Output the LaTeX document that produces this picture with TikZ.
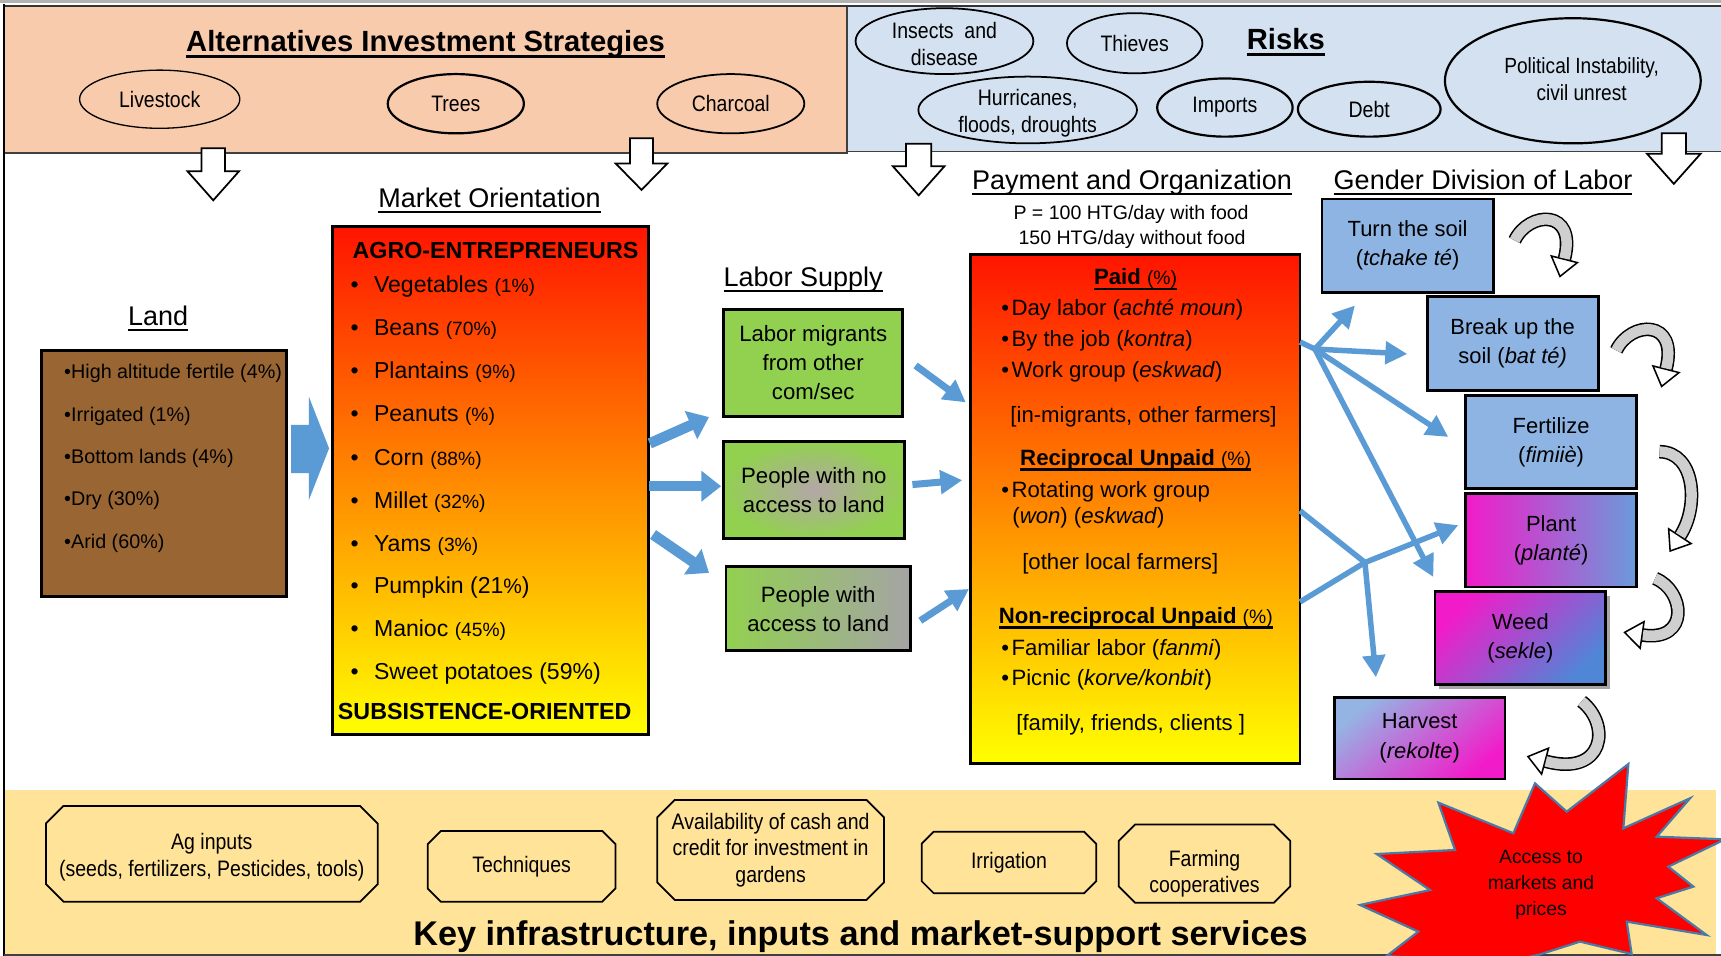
\documentclass[tikz,border=0pt]{standalone}
\usepackage{fontspec}
\setmainfont{Liberation Sans}
\newfontfamily\narrowsf{Liberation Sans}[FakeStretch=0.87]
\usetikzlibrary{arrows.meta,shapes.geometric}
\definecolor{peach}{HTML}{F8CBAD}
\definecolor{paleblue}{HTML}{D3E1F1}
\definecolor{paleyellow}{HTML}{FFE399}
\definecolor{brownland}{HTML}{996633}
\definecolor{grn}{HTML}{92D050}
\definecolor{arrowblue}{HTML}{5B9BD5}
\definecolor{lblue}{HTML}{8DB4E2}
\definecolor{mag}{HTML}{F21BC9}
\definecolor{mblue}{HTML}{6A9BDA}
\definecolor{wblue}{HTML}{4F86D6}
\definecolor{hblue}{HTML}{95B4E4}
\definecolor{curvegray}{HTML}{CFCFCF}
\definecolor{burstedge}{HTML}{4A7BA6}
\definecolor{topred}{HTML}{FF1400}
\definecolor{midorange}{HTML}{FF9E00}
\definecolor{pinkgrey}{HTML}{B4A6A8}
\definecolor{greybox}{HTML}{A4A4A4}

\newcommand\ulthick[1]{\setbox0=\hbox{#1}\rlap{\rule[-2.9pt]{\wd0}{1.3pt}}\box0}
\newcommand\ulmid[1]{\setbox0=\hbox{#1}\rlap{\rule[-2.4pt]{\wd0}{1pt}}\box0}
\newcommand\ulthin[1]{\setbox0=\hbox{#1}\rlap{\rule[-2.4pt]{\wd0}{0.65pt}}\box0}
\newcommand\fsTitle{\fontsize{13.3}{16}\selectfont}
\newcommand\fsHead{\fontsize{12.3}{15}\selectfont}
\newcommand\fsItem{\fontsize{10.5}{13}\selectfont}
\newcommand\fsPct{\fontsize{8.75}{11}\selectfont}
\newcommand\fsPay{\fontsize{10.1}{13}\selectfont}
\newcommand\fsSmall{\fontsize{8.9}{11.5}\selectfont}
\newcommand\fsLand{\fontsize{9}{11}\selectfont}
\newcommand\fsBox{\fontsize{10.1}{13.2}\selectfont}
\newcommand\fsGen{\fontsize{10}{13.3}\selectfont}
\newcommand\fsEll{\narrowsf\fontsize{10.2}{12}\selectfont}
\newcommand\fsKey{\fontsize{15.6}{18}\selectfont}

\newcommand\blockdown[7]{%
  \draw[downarr] ({#2-#6},#3) -- ({#2+#6},#3) -- ({#2+#6},#4) -- ({#2+#7},#4)
    -- (#2,#5) coordinate (#1) -- ({#2-#7},#4) -- ({#2-#6},#4) -- cycle;}
\newcommand\chamf[2]{%
  \draw[octo] ([xshift=#2]#1.north west) -- ([xshift=-#2]#1.north east)
    -- ([yshift=-#2]#1.north east) -- ([yshift=#2]#1.south east)
    -- ([xshift=-#2]#1.south east) -- ([xshift=#2]#1.south west)
    -- ([yshift=#2]#1.south west) -- ([yshift=-#2]#1.north west) -- cycle;}
\newcommand\curvearr[4]{%
  \draw[line width=6.2pt, black, -{Triangle[length=9pt,width=13.5pt,fill=white,line width=0.7pt]}]
    #1 .. controls #2 and #3 .. #4;
  \draw[line width=4.8pt, curvegray, shorten >=9pt] #1 .. controls #2 and #3 .. #4;}

\begin{document}
\begin{tikzpicture}[x=0.5pt,y=-0.5pt,
  every node/.style={inner sep=0pt, outer sep=0pt},
  panelline/.style={draw=black!75, line width=0.8pt},
  ell/.style={ellipse, draw=black, line width=0.6pt, align=center, font=\fsEll},
  ellb/.style={ell, line width=1pt},
  bigbox/.style={draw=black, line width=1.3pt, rectangle},
  gbox/.style={draw=black, line width=1.3pt, rectangle, align=center, font=\fsBox},
  genbox/.style={draw=black, line width=1.3pt, rectangle, align=center, font=\fsGen},
  downarr/.style={draw=black, line width=0.8pt, fill=white},
  bluefat/.style={arrowblue, line width=4.8pt, -{Triangle[length=9pt,width=13.5pt]}},
  bluemid/.style={arrowblue, line width=3.2pt, -{Triangle[length=10pt,width=10.5pt]}},
  bluethin/.style={arrowblue, line width=2.5pt, -{Triangle[length=10pt,width=10pt]}},
  bluestem/.style={arrowblue, line width=2.5pt},
  octo/.style={draw=black, line width=0.8pt},
  octnode/.style={rectangle, align=center, font=\fsEll},
  octtext/.style={align=center, font=\fsEll},
  item/.style={anchor=base west, font=\fsItem},
  payitem/.style={anchor=base west, font=\fsPay},
  landitem/.style={anchor=base west, font=\fsLand},
]
\useasboundingbox (0,0) rectangle (1568,871);

% ---------- background panels ----------
\fill[white] (0,0) rectangle (1568,871);
\fill[peach] (4.6,6.7) rectangle (772,139.7);
\fill[paleblue] (772,6.7) rectangle (1568,138);
\draw[panelline] (4.6,139.7) -- (772,139.7) -- (772,6.7);
\draw[panelline] (772,138) -- (1568,138);
\fill[paleyellow] (4.6,719.8) rectangle (1563.3,870);
\draw[black!30, line width=1.5pt] (0,1.5) -- (1568,1.5);
\draw[black!80, line width=1pt] (3.5,5.3) -- (1568,5.3);
\draw[black, line width=1.1pt] (3.5,4) -- (3.5,871);
\draw[black!75, line width=1pt] (3.5,870.3) -- (1568,870.3);

% ---------- top: strategies ----------
\node[font=\bfseries\fsTitle, anchor=base] (tAIS) at (387.7,47) {\ulthick{Alternatives Investment Strategies}};
\node[ell, minimum width=73pt, minimum height=26.5pt] (live) at (145.5,90.4) {Livestock};
\node[ellb, minimum width=62pt, minimum height=27pt] (trees) at (415.3,94.5) {Trees};
\node[ell, line width=0.8pt, minimum width=67pt, minimum height=27pt] (char) at (665.8,94.5) {Charcoal};

% ---------- top: risks ----------
\node[font=\bfseries\fsTitle, anchor=base] (tRisks) at (1171.5,45.5) {\ulthick{Risks}};
\node[ell, line width=0.8pt, minimum width=81pt, minimum height=30pt] (insects) at (860.5,37.5) {};
\node[octtext] (insectstext) at (860.5,40) {Insects\ \ and\\disease};
\node[ell, line width=0.8pt, minimum width=61.7pt, minimum height=27.4pt] (thieves) at (1033.8,39.4) {Thieves};
\node[ell, line width=0.8pt, minimum width=99.6pt, minimum height=30.4pt] (hurr) at (936.3,100.2) {};
\node[octtext] (hurrtext) at (936.3,103) {Hurricanes,\\floods, droughts};
\node[ellb, minimum width=61.7pt, minimum height=26.5pt] (imports) at (1116,98) {Imports};
\node[ellb, minimum width=65pt, minimum height=25pt] (debt) at (1247.5,99.5) {Debt};
\node[ellb, minimum width=116.5pt, minimum height=57pt] (pol) at (1433,73.6) {};
\node[font=\narrowsf\fontsize{10}{12}\selectfont, align=center] (poltext) at (1441,72) {Political Instability,\\civil unrest};

% ---------- white down arrows ----------
\blockdown{dA}{194.3}{135}{156}{182.5}{10.8}{23.5}
\blockdown{dB}{584.5}{126}{149}{173}{10.5}{23.5}
\blockdown{dC}{837}{131}{151.5}{178}{11.5}{23.5}
\blockdown{dD}{1525}{121.5}{140}{167.5}{11}{24.5}

% ---------- land ----------
\node[font=\fsHead, anchor=base] (tLand) at (144,296.4) {\ulthin{Land}};
\node[bigbox, fill=brownland, minimum width=111.45pt, minimum height=112.25pt] (land) at (149.25,431.35) {};
\node[landitem] (l1) at (58.5,345.2) {•High altitude fertile (4\%)};
\node[landitem] (l2) at (58.5,383.6) {•Irrigated (1\%)};
\node[landitem] (l3) at (58.5,422.6) {•Bottom lands (4\%)};
\node[landitem] (l4) at (58.5,461) {•Dry (30\%)};
\node[landitem] (l5) at (58.5,499.4) {•Arid (60\%)};
\fill[arrowblue] (265.2,387) -- (281.5,387) -- (281.5,361.6) -- (299.8,408.5)
  -- (281.5,455.4) -- (281.5,431) -- (265.2,431) -- cycle;

% ---------- market orientation ----------
\node[font=\fsHead, anchor=base] (tMkt) at (446,189) {\ulthin{Market Orientation}};
\node[bigbox, top color=topred, middle color=midorange, bottom color=yellow,
  minimum width=143.95pt, minimum height=231.3pt] (mkt) at (446.55,437.7) {};
\node[anchor=base west, font=\bfseries\fontsize{10.6}{13}\selectfont] (agro) at (321.3,235.4) {AGRO-ENTREPRENEURS};
\node[item] (m1) at (319.5,266.4) {\makebox[10.65pt][l]{•}Vegetables {\fsPct(1\%)}};
\node[item] (m2) at (319.5,305.5) {\makebox[10.65pt][l]{•}Beans {\fsPct(70\%)}};
\node[item] (m3) at (319.5,344.9) {\makebox[10.65pt][l]{•}Plantains {\fsPct(9\%)}};
\node[item] (m4) at (319.5,384.3) {\makebox[10.65pt][l]{•}Peanuts {\fsPct(\%)}};
\node[item] (m5) at (319.5,423.7) {\makebox[10.65pt][l]{•}Corn {\fsPct(88\%)}};
\node[item] (m6) at (319.5,463.1) {\makebox[10.65pt][l]{•}Millet {\fsPct(32\%)}};
\node[item] (m7) at (319.5,502.1) {\makebox[10.65pt][l]{•}Yams {\fsPct(3\%)}};
\node[item] (m8) at (319.5,540.5) {\makebox[10.65pt][l]{•}Pumpkin (21{\fontsize{9.5}{11}\selectfont\%})};
\node[item] (m9) at (319.5,580.2) {\makebox[10.65pt][l]{•}Manioc {\fsPct(45\%)}};
\node[item] (m10) at (319.5,619) {\makebox[10.65pt][l]{•}Sweet potatoes (59\%)};
\node[anchor=base west, font=\bfseries\fontsize{10.6}{13}\selectfont] (subs) at (307.9,655.6) {SUBSISTENCE-ORIENTED};

% ---------- labor supply ----------
\node[font=\fsHead, anchor=base] (tLab) at (731.8,261) {\ulthin{Labor Supply}};
\node[gbox, fill=grn, minimum width=81.5pt, minimum height=48.6pt] (lab1) at (740.9,330.6) {Labor migrants\\from other\\com/sec};
\node[gbox, inner color=pinkgrey, outer color=grn, minimum width=82.2pt, minimum height=44pt] (lab2) at (741.5,446.5) {People with no\\access to land};
\node[gbox, left color=grn, middle color=grn!75!greybox, right color=greybox, minimum width=84pt, minimum height=38.2pt] (lab3) at (745.5,554.6) {People with\\access to land};

\coordinate (fa1s) at (592,404); \coordinate (fa1e) at (646,380);
\coordinate (fa2s) at (591,443); \coordinate (fa2e) at (657,443);
\coordinate (fa3s) at (595,487); \coordinate (fa3e) at (646,522);
\draw[bluefat] (fa1s) -- (fa1e);
\draw[bluefat] (fa2s) -- (fa2e);
\draw[bluefat] (fa3s) -- (fa3e);

\coordinate (la1s) at (834.2,333); \coordinate (la1e) at (879.9,366.6);
\coordinate (la2s) at (831.3,441.5); \coordinate (la2e) at (876.7,437.5);
\coordinate (la3s) at (838.5,565.5); \coordinate (la3e) at (882.8,536.6);
\draw[bluemid] (la1s) -- (la1e);
\draw[bluemid] (la2s) -- (la2e);
\draw[bluemid] (la3s) -- (la3e);

% ---------- payment and organization ----------
\node[font=\fsHead, anchor=base] (tPay) at (1031.4,172.7) {\ulthin{Payment and Organization}};
\node[font=\fsSmall, anchor=base] (rate1) at (1030.5,199.8) {P = 100 HTG/day with food};
\node[font=\fsSmall, anchor=base] (rate2) at (1031.4,223.2) {150 HTG/day without food};
\node[bigbox, top color=topred, middle color=midorange, bottom color=yellow,
  minimum width=150.25pt, minimum height=231.85pt] (pay) at (1034.2,463.4) {};
\node[anchor=base, font=\fsPay] (paid) at (1034.6,259.2) {\ulmid{\bfseries Paid {\mdseries\fontsize{8.8}{11}\selectfont(\%)}}};
\node[payitem] (p1) at (912.4,287.3) {\makebox[4.6pt][l]{•}Day labor (\textit{achté moun})};
\node[payitem] (p2) at (912.4,315.8) {\makebox[4.6pt][l]{•}By the job (\textit{kontra})};
\node[payitem] (p3) at (912.4,343.9) {\makebox[4.6pt][l]{•}Work group (\textit{eskwad})};
\node[payitem] (p4) at (920.6,385.3) {[in-migrants, other farmers]};
\node[anchor=base, font=\fsPay] (recip) at (1034.7,423.9) {\ulmid{\bfseries Reciprocal Unpaid {\mdseries\fontsize{8.8}{11}\selectfont(\%)}}};
\node[payitem] (p5) at (912.4,453) {\makebox[4.6pt][l]{•}Rotating work group};
\node[payitem] (p6) at (922.4,477.2) {(\textit{won}) (\textit{eskwad})};
\node[payitem] (p7) at (931.4,519.3) {[other local farmers]};
\node[anchor=base, font=\fsPay] (nonrecip) at (1034.8,568) {\ulmid{\bfseries Non-reciprocal Unpaid {\mdseries\fontsize{8.8}{11}\selectfont(\%)}}};
\node[payitem] (p8) at (912.4,596.8) {\makebox[4.6pt][l]{•}Familiar labor (\textit{fanmi})};
\node[payitem] (p9) at (912.4,624.9) {\makebox[4.6pt][l]{•}Picnic (\textit{korve/konbit})};
\node[payitem] (p10) at (926,665.6) {[family, friends, clients ]};

% ---------- gender division of labor ----------
\node[font=\fsHead, anchor=base] (tGen) at (1351.2,172.6) {\ulthin{Gender Division of Labor}};
\node[genbox, fill=lblue, minimum width=78pt, minimum height=42.5pt] (turn) at (1282.5,223.8) {Turn the soil\\(\textit{tchake té})};
\node[genbox, fill=lblue, minimum width=78pt, minimum height=42.7pt] (break) at (1378.2,313.1) {Break up the\\soil (\textit{bat té)}};
\node[genbox, fill=lblue, minimum width=77.9pt, minimum height=42.5pt] (fert) at (1413.2,402.8) {Fertilize\\(\textit{fimiiè})};
\node[genbox, left color=mag, right color=mblue, minimum width=77.9pt, minimum height=42.7pt] (plant) at (1413.2,492.1) {Plant\\(\textit{planté})};
\fill[black!35] (1311.4,543.3) rectangle (1466.9,627.9);
\node[genbox, top color=mag, bottom color=wblue, shading angle=45, minimum width=77.75pt, minimum height=42.3pt] (weed) at (1385.2,581.6) {Weed\\(\textit{sekle})};
\node[genbox, top color=hblue, bottom color=mag, shading angle=40, minimum width=77.75pt, minimum height=37.2pt] (harv) at (1293.5,672.5) {Harvest\\(\textit{rekolte})};

% blue arrows from payment to tasks
\coordinate (g0) at (1184.4,311.6);
\coordinate (h1) at (1198,318);
\coordinate (gt1) at (1234.5,278.3);
\coordinate (gt2) at (1282.2,322.5);
\coordinate (gt3) at (1319.5,398.1);
\coordinate (gt4) at (1305.9,525.7);
\coordinate (g1) at (1184.4,465.3);
\coordinate (g2) at (1184.4,548.4);
\coordinate (h2) at (1243.6,512.5);
\coordinate (gt5) at (1328.7,478.5);
\coordinate (gt6) at (1253.6,617.1);
\draw[bluestem] (g0) -- (h1);
\draw[bluethin] (h1) -- (gt1);
\draw[bluethin] (h1) -- (gt2);
\draw[bluethin] (h1) -- (gt3);
\draw[bluethin] (h1) -- (gt4);
\draw[bluestem] (g1) -- (h2);
\draw[bluestem] (g2) -- (h2);
\draw[bluethin] (h2) -- (gt5);
\draw[bluethin] (h2) -- (gt6);

% curved grey arrows
\curvearr{(1380,219)}{(1393,192)}{(1437,190)}{(1421,253)}
\curvearr{(1472.6,319.2)}{(1485.6,292.2)}{(1529.6,290.2)}{(1513.6,353.2)}
\curvearr{(1512,411.5)}{(1545,412)}{(1548,462)}{(1521,503)}
\curvearr{(1508,527)}{(1535,538)}{(1540,585)}{(1479,576)}
\curvearr{(1441,639)}{(1468,660)}{(1462,708)}{(1391,689)}

% ---------- bottom: infrastructure ----------
\node[octnode, minimum width=151.15pt, minimum height=43.6pt] (ag) at (193,777.9) {};
\node[octtext] (agtext) at (193,781) {Ag inputs\\(seeds, fertilizers, Pesticides, tools)};
\chamf{ag}{8pt}
\node[octnode, minimum width=85.5pt, minimum height=32.2pt] (tech) at (475.2,789.3) {Techniques};
\chamf{tech}{6pt}
\node[octnode, minimum width=103.3pt, minimum height=45.6pt] (avail) at (702.1,774.4) {Availability of cash and\\credit for investment in\\gardens};
\chamf{avail}{8pt}
\node[octnode, minimum width=79.45pt, minimum height=28.1pt] (irr) at (919.25,785.8) {Irrigation};
\chamf{irr}{5.5pt}
\node[octnode, minimum width=78.2pt, minimum height=35.7pt] (farm) at (1097.4,786.8) {};
\node[octtext] (farmtext) at (1097.4,796) {Farming\\cooperatives};
\chamf{farm}{7.5pt}

\filldraw[fill=red, draw=burstedge, line width=1pt]
  (1483.6,696.1) -- (1479,754.7) -- (1539.8,727.3) -- (1509.4,762.3) -- (1571.7,764.7)
  -- (1520,789.6) -- (1542.8,807.8) -- (1509.4,818.4) -- (1554.9,851.9) -- (1482.1,839.7)
  -- (1486.6,869.2) -- (1439.5,857.9) -- (1401.6,870) -- (1366.7,877.7) -- (1263.4,871)
  -- (1292.2,848.8) -- (1239.1,824.5) -- (1302.9,810.9) -- (1254.3,778.1) -- (1325.7,774.4)
  -- (1310.5,731.3) -- (1378.8,759.2) -- (1398.5,713.7) -- (1427.4,739.5) -- cycle;
\node[font=\fontsize{8.8}{11.8}\selectfont, align=center] (access) at (1404,806) {Access to\\markets and\\prices};

\node[font=\bfseries\fsKey, anchor=base] (keyt) at (784,861.5) {Key infrastructure, inputs and market-support services};
\end{tikzpicture}
\end{document}
